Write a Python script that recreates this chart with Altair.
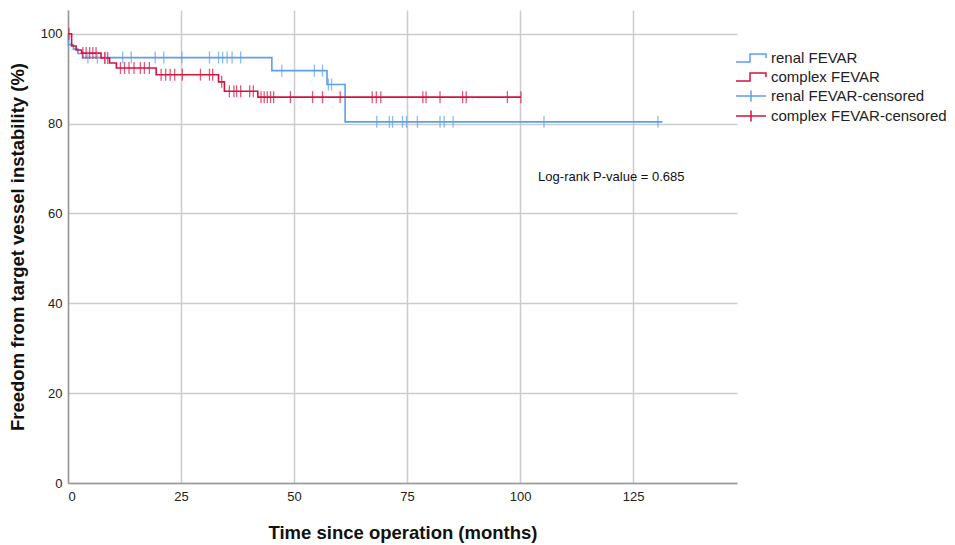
import altair as alt
import pandas as pd

# ---- data ----
groups = ["renal FEVAR", "complex FEVAR"]
censored_names = ["renal FEVAR-censored", "complex FEVAR-censored"]

renal_t = [0, 0.1, 1.2, 2.2, 3.2, 45.1, 57.3, 61.3, 131.5]
renal_s = [100, 97.6, 96.6, 95.6, 94.7, 91.8, 88.7, 80.4, 80.4]

complex_t = [0, 0.8, 1.8, 3.0, 7.3, 9.2, 10.7, 19.5, 33.3, 34.6, 42.0, 100.2]
complex_s = [100, 97.3, 96.4, 95.7, 94.6, 93.5, 92.4, 90.9, 89.3, 87.2, 85.9, 85.9]

renal_cens = [4.4, 6.5, 8.3, 12.1, 14.0, 19.3, 21.2, 25.2, 31.3, 33.3, 34.2, 35.2,
              36.3, 38.2, 47.3, 54.5, 56.3, 57.6, 58.3, 68.3, 71.1, 71.8, 74.0,
              74.9, 77.3, 82.3, 83.2, 85.2, 105.3, 130.5]
complex_cens = [0.2, 3.3, 4.0, 4.8, 5.5, 6.2, 8.1, 8.8, 11.6, 12.5, 13.5, 14.6,
                16.0, 16.9, 18.0, 20.6, 21.6, 22.6, 23.6, 25.3, 29.3, 31.3, 32.0,
                34.0, 35.7, 36.7, 37.3, 38.2, 40.2, 41.0, 42.7, 43.4, 44.1, 44.8,
                45.5, 49.2, 54.1, 56.3, 60.2, 67.3, 68.2, 69.2, 78.5, 79.2, 82.3,
                87.3, 88.1, 97.2, 100.2]

x_ticks = [0, 25, 50, 75, 100, 125]
y_ticks = [0, 20, 40, 60, 80, 100]
annotation = ["Log-rank P-value = 0.685"]
annotation_pos = [(104, 68.2)]

BLUE = "#5d9fe8"
RED = "#d4123f"
FONT = "Liberation Sans"

# ---- tables ----
def surv_at(ts, ss, t):
    val = ss[0]
    for ti, si in zip(ts, ss):
        if ti <= t:
            val = si
    return val

lines = pd.DataFrame(
    [{"t": t, "s": s, "series": groups[0]} for t, s in zip(renal_t, renal_s)]
    + [{"t": t, "s": s, "series": groups[1]} for t, s in zip(complex_t, complex_s)]
)
cens = pd.DataFrame(
    [{"t": t, "s": surv_at(renal_t, renal_s, t), "series": censored_names[0]} for t in renal_cens]
    + [{"t": t, "s": surv_at(complex_t, complex_s, t), "series": censored_names[1]} for t in complex_cens]
)
ann = pd.DataFrame([{"t": p[0], "s": p[1], "label": a} for a, p in zip(annotation, annotation_pos)])

domain_all = groups + censored_names
color_scale = alt.Scale(domain=domain_all, range=[BLUE, RED, BLUE, RED])
# open step glyph, retraced so that it encloses no fill area
step_path = ("M-1.5,0.4L-0.1,0.4L-0.1,-0.4L1.5,-0.4L1.5,0"
             "L1.5,-0.4L-0.1,-0.4L-0.1,0.4Z")
cens_path = "M-1.5,0L1.5,0M0,-0.55L0,0.55"
shape_scale = alt.Scale(domain=domain_all, range=[step_path, step_path, cens_path, cens_path])

legend_spec = alt.Legend(title=None, orient="none", legendX=672, legendY=37,
                         labelFontSize=15, labelFont=FONT, labelColor="#222222",
                         symbolSize=400, symbolStrokeWidth=1.5, labelOffset=9,
                         symbolFillColor="transparent", symbolOpacity=1,
                         rowPadding=0, padding=0, labelLimit=300)

x_enc = alt.X("t:Q", scale=alt.Scale(domain=[0, 148], nice=False, zero=False),
              axis=alt.Axis(values=x_ticks, title="Time since operation (months)",
                            titleX=334.5, titleY=49, titleBaseline="middle",
                            titleAlign="center", labelPadding=7))
y_enc = alt.Y("s:Q", scale=alt.Scale(domain=[0, 105.3], nice=False, zero=False),
              axis=alt.Axis(values=y_ticks, title="Freedom from target vessel instability (%)",
                            titleX=-51, titleY=236.5, titleAngle=-90, titleBaseline="middle",
                            titleAlign="center", labelPadding=6))

color_enc = alt.Color("series:N", scale=color_scale, legend=legend_spec)

line_layer = alt.Chart(lines).mark_line(interpolate="step-after", strokeWidth=1.6).encode(
    x=x_enc, y=y_enc, color=color_enc, detail="series:N",
)

cens_layer = alt.Chart(cens).mark_tick(orient="vertical", size=12, thickness=1.3).encode(
    x="t:Q", y="s:Q", color=color_enc,
)

legend_layer = alt.Chart(cens).transform_filter("false").mark_point(
    filled=False, strokeWidth=1.5).encode(
    x="t:Q", y="s:Q",
    color=color_enc,
    shape=alt.Shape("series:N", scale=shape_scale, legend=legend_spec),
)

text_layer = alt.Chart(ann).mark_text(align="left", baseline="middle", fontSize=13,
                                      font=FONT, color="#111111").encode(
    x="t:Q", y="s:Q", text="label:N")

chart = alt.layer(line_layer, cens_layer, legend_layer, text_layer).properties(
    width=669, height=473,
    autosize=alt.AutoSizeParams(type="none"),
    padding={"left": 68, "top": 10, "right": 218, "bottom": 62},
    background="white",
).configure_view(stroke=None).configure_axis(
    grid=True, gridColor="#cccccc", gridWidth=1.5,
    domainColor="#999999", domainWidth=1.5,
    ticks=False, tickSize=0,
    labelFont=FONT, labelFontSize=13, labelColor="#222222",
    titleFont=FONT, titleFontSize=18.5, titleFontWeight="bold", titleColor="#111111",
)

chart.save("out.html", embed_options={"renderer": "svg", "actions": False})
